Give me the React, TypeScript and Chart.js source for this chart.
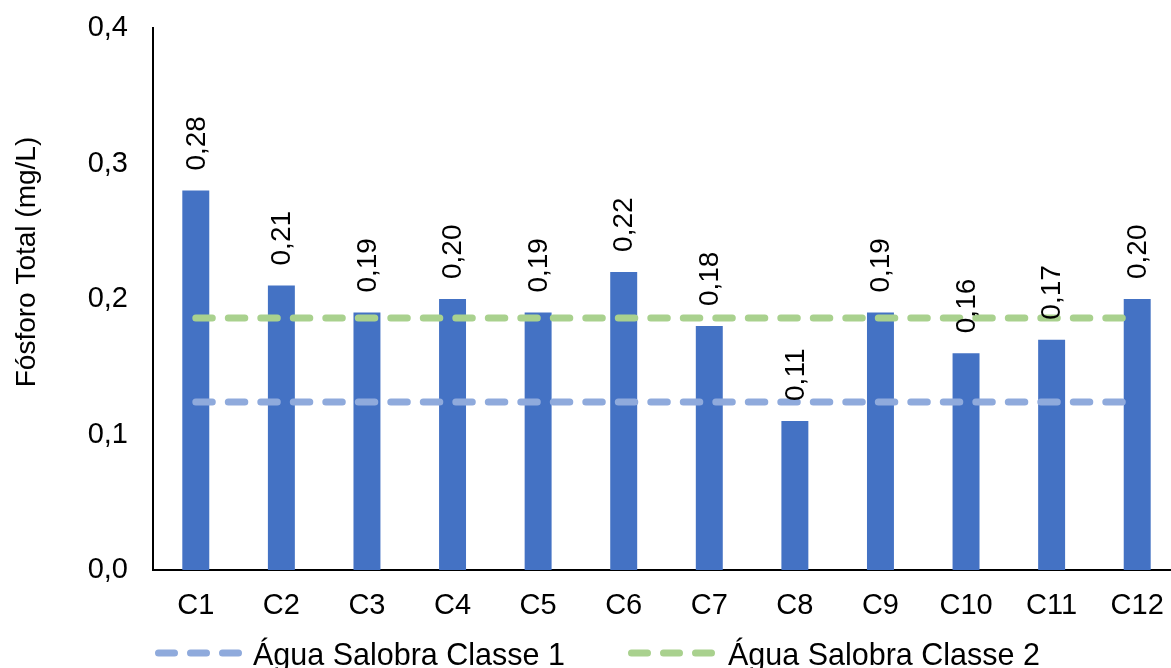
import React, { useEffect, useRef } from "react";
import { Chart, registerables } from "chart.js";

Chart.register(...registerables);

const FONT = "'Liberation Sans', Arial, sans-serif";

const categories = ["C1", "C2", "C3", "C4", "C5", "C6", "C7", "C8", "C9", "C10", "C11", "C12"];
const phosphorus = [0.28, 0.21, 0.19, 0.2, 0.19, 0.22, 0.18, 0.11, 0.19, 0.16, 0.17, 0.2];
const classe1 = [0.124, 0.124, 0.124, 0.124, 0.124, 0.124, 0.124, 0.124, 0.124, 0.124, 0.124, 0.124];
const classe2 = [0.186, 0.186, 0.186, 0.186, 0.186, 0.186, 0.186, 0.186, 0.186, 0.186, 0.186, 0.186];
const seriesNames = ["Fósforo Total", "Água Salobra Classe 1", "Água Salobra Classe 2"];
const yTitle = "Fósforo Total (mg/L)";

const BAR_COLOR = "#4472C4";
const C1_COLOR = "#8FAADC";
const C2_COLOR = "#A9D18E";

const fmt = (v: number, d: number) => v.toFixed(d).replace(".", ",");

const labelPlugin = {
  id: "barLabels",
  afterDatasetsDraw(chart: any) {
    const ctx = chart.ctx;
    const meta = chart.getDatasetMeta(0);
    ctx.save();
    ctx.font = `28px ${FONT}`;
    ctx.fillStyle = "#000";
    ctx.textAlign = "left";
    ctx.textBaseline = "middle";
    meta.data.forEach((el: any, i: number) => {
      ctx.save();
      ctx.translate(el.x + 1, el.y - 20);
      ctx.rotate(-Math.PI / 2);
      ctx.fillText(fmt(phosphorus[i], 2), 0, 0);
      ctx.restore();
    });
    ctx.restore();
  },
};

const extrasPlugin = {
  id: "extras",
  afterDraw(chart: any) {
    const ctx = chart.ctx;
    ctx.save();
    ctx.font = `28px ${FONT}`;
    ctx.fillStyle = "#000";
    ctx.textAlign = "center";
    ctx.textBaseline = "middle";
    ctx.translate(27, 262);
    ctx.rotate(-Math.PI / 2);
    ctx.fillText(yTitle, 0, 0);
    ctx.restore();

    const items = [
      { x: 155, tx: 253, color: C1_COLOR, text: seriesNames[1] },
      { x: 628, tx: 728, color: C2_COLOR, text: seriesNames[2] },
    ];
    items.forEach((it) => {
      ctx.save();
      ctx.strokeStyle = it.color;
      ctx.lineWidth = 7;
      ctx.lineCap = "round";
      ctx.setLineDash([16, 16]);
      ctx.beginPath();
      ctx.moveTo(it.x + 3.5, 653);
      ctx.lineTo(it.x + 88 - 3.5, 653);
      ctx.stroke();
      ctx.setLineDash([]);
      ctx.font = `30.5px ${FONT}`;
      ctx.fillStyle = "#000";
      ctx.textAlign = "left";
      ctx.textBaseline = "alphabetic";
      ctx.fillText(it.text, it.tx, 665);
      ctx.restore();
    });
  },
};

export default function App() {
  const ref = useRef<HTMLCanvasElement | null>(null);
  useEffect(() => {
    if (!ref.current) return;
    const chart = new Chart(ref.current, {
      type: "bar",
      data: {
        labels: categories,
        datasets: [
          {
            type: "bar",
            label: seriesNames[0],
            data: phosphorus,
            backgroundColor: BAR_COLOR,
            barPercentage: 0.315,
            categoryPercentage: 1,
            order: 2,
          } as any,
          {
            type: "line",
            label: seriesNames[1],
            data: classe1,
            borderColor: C1_COLOR,
            borderWidth: 7,
            borderDash: [16.5, 16],
            borderCapStyle: "round",
            pointRadius: 0,
            fill: false,
            order: 1,
          } as any,
          {
            type: "line",
            label: seriesNames[2],
            data: classe2,
            borderColor: C2_COLOR,
            borderWidth: 7,
            borderDash: [16.5, 16],
            borderCapStyle: "round",
            pointRadius: 0,
            fill: false,
            order: 0,
          } as any,
        ],
      },
      options: {
        responsive: false,
        devicePixelRatio: 1,
        animation: false,
        layout: { padding: { left: 0, top: 28, right: 5, bottom: 0 } },
        plugins: { legend: { display: false }, tooltip: { enabled: false } },
        scales: {
          x: {
            grid: { display: false, drawTicks: false },
            border: { display: true, color: "#000", width: 2 },
            ticks: { color: "#000", font: { family: FONT, size: 29 }, padding: 19, maxRotation: 0, autoSkip: false },
            afterFit: (s: any) => {
              s.height = 98;
              s.paddingLeft = 0;
              s.paddingRight = 0;
            },
          },
          y: {
            min: 0,
            max: 0.4,
            grid: { display: false, drawTicks: false },
            border: { display: true, color: "#000", width: 2 },
            ticks: {
              stepSize: 0.1,
              color: "#000",
              font: { family: FONT, size: 29 },
              padding: 25,
              callback: (v: any) => fmt(Number(v), 1),
            },
            afterFit: (s: any) => {
              s.width = 153;
              s.paddingTop = 0;
              s.paddingBottom = 0;
            },
          },
        },
      },
      plugins: [labelPlugin, extrasPlugin],
    });
    return () => chart.destroy();
  }, []);

  return (
    <div
      style={{
        position: "fixed",
        left: 0,
        top: 0,
        width: 1171,
        height: 668,
        overflow: "hidden",
        background: "#fff",
      }}
    >
      <canvas ref={ref} width={1185} height={668} style={{ display: "block" }} />
    </div>
  );
}
